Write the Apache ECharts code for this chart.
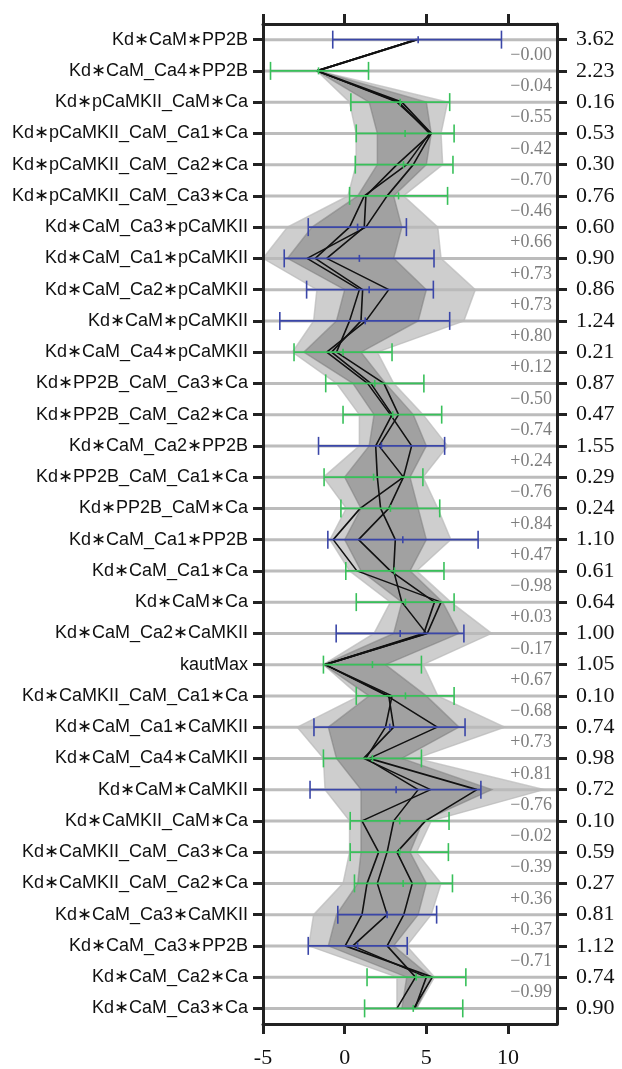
<!DOCTYPE html>
<html>
<head>
<meta charset="utf-8">
<script src="https://cdn.jsdelivr.net/npm/echarts@6/dist/echarts.min.js"></script>
<style>
html, body { margin: 0; padding: 0; background: #fff; }
#main { width: 622px; height: 1069px; }
</style>
</head>
<body>
<div id="main"></div>
<script>
// parameter names, top to bottom
var params = [
    'Kd∗CaM∗PP2B', 'Kd∗CaM_Ca4∗PP2B', 'Kd∗pCaMKII_CaM∗Ca', 'Kd∗pCaMKII_CaM_Ca1∗Ca',
    'Kd∗pCaMKII_CaM_Ca2∗Ca', 'Kd∗pCaMKII_CaM_Ca3∗Ca', 'Kd∗CaM_Ca3∗pCaMKII', 'Kd∗CaM_Ca1∗pCaMKII',
    'Kd∗CaM_Ca2∗pCaMKII', 'Kd∗CaM∗pCaMKII', 'Kd∗CaM_Ca4∗pCaMKII', 'Kd∗PP2B_CaM_Ca3∗Ca',
    'Kd∗PP2B_CaM_Ca2∗Ca', 'Kd∗CaM_Ca2∗PP2B', 'Kd∗PP2B_CaM_Ca1∗Ca', 'Kd∗PP2B_CaM∗Ca',
    'Kd∗CaM_Ca1∗PP2B', 'Kd∗CaM_Ca1∗Ca', 'Kd∗CaM∗Ca', 'Kd∗CaM_Ca2∗CaMKII',
    'kautMax', 'Kd∗CaMKII_CaM_Ca1∗Ca', 'Kd∗CaM_Ca1∗CaMKII', 'Kd∗CaM_Ca4∗CaMKII',
    'Kd∗CaM∗CaMKII', 'Kd∗CaMKII_CaM∗Ca', 'Kd∗CaMKII_CaM_Ca3∗Ca', 'Kd∗CaMKII_CaM_Ca2∗Ca',
    'Kd∗CaM_Ca3∗CaMKII', 'Kd∗CaM_Ca3∗PP2B', 'Kd∗CaM_Ca2∗Ca', 'Kd∗CaM_Ca3∗Ca'
];
// right hand column
var spreads = [3.62, 2.23, 0.16, 0.53, 0.30, 0.76, 0.60, 0.90, 0.86, 1.24, 0.21, 0.87, 0.47, 1.55, 0.29, 0.24,
    1.10, 0.61, 0.64, 1.00, 1.05, 0.10, 0.74, 0.98, 0.72, 0.10, 0.59, 0.27, 0.81, 1.12, 0.74, 0.90];
// correlation between neighbouring rows
var correlations = [-0, -0.04, -0.55, -0.42, -0.70, -0.46, 0.66, 0.73, 0.73, 0.80, 0.12, -0.50, -0.74, 0.24,
    -0.76, 0.84, 0.47, -0.98, 0.03, -0.17, 0.67, -0.68, 0.73, 0.81, -0.76, -0.02, -0.39, 0.36, 0.37, -0.71, -0.99];

// prior error bars
var errLow = [-0.73, -4.54, 0.38, 0.71, 0.65, 0.30, -2.23, -3.70, -2.33, -3.97, -3.10, -1.16, -0.10, -1.60, -1.26, -0.23,
    -1.03, 0.07, 0.71, -0.52, -1.30, 0.71, -1.88, -1.30, -2.12, 0.34, 0.34, 0.60, -0.42, -2.23, 1.37, 1.22];
var errMid = [4.50, -1.60, 3.40, 3.70, 3.60, 3.30, 0.79, 0.90, 1.50, 1.26, -0.10, 1.84, 2.94, 2.25, 1.77, 2.80,
    3.56, 3.05, 3.72, 3.40, 1.70, 3.72, 2.76, 1.70, 3.15, 3.37, 3.37, 3.58, 2.60, 0.79, 4.38, 4.20];
var errHigh = [9.60, 1.46, 6.43, 6.70, 6.63, 6.30, 3.78, 5.47, 5.43, 6.43, 2.90, 4.85, 5.94, 6.12, 4.79, 5.82,
    8.17, 6.08, 6.70, 7.30, 4.70, 6.70, 7.37, 4.70, 8.34, 6.39, 6.35, 6.60, 5.63, 3.83, 7.42, 7.23];
var blueRows = [0, 6, 7, 8, 9, 13, 16, 19, 22, 24, 28, 29];

// sample cloud: full extent and dense core
var sampleLo = [4.40, -1.70, 0.30, 0.70, 0.70, 0.20, -3.50, -5.00, -1.70, -1.90, -3.20, -0.50, 0.90, 0.90, -1.30, 0.10,
    -0.90, 0.30, 2.80, 1.80, -1.30, 0.90, -2.90, -1.30, -1.20, 0.30, 0.30, -0.10, -1.90, -2.20, 3.20, 3.20];
var sampleHi = [4.50, -1.60, 6.30, 5.90, 6.00, 3.60, 5.70, 5.90, 8.00, 7.30, 2.00, 3.00, 4.80, 6.30, 4.80, 5.70,
    6.50, 4.40, 6.50, 9.00, 4.80, 5.70, 9.80, 4.40, 12.20, 5.30, 4.40, 5.90, 5.30, 3.80, 5.50, 4.40];
var coreLo = [4.40, -1.70, 1.50, 2.00, 2.00, 0.80, -2.00, -3.50, 0.00, -0.50, -2.50, 0.50, 1.80, 1.50, 0.00, 1.00,
    0.00, 1.00, 3.50, 3.00, -1.30, 1.50, -1.00, -0.50, 1.00, 1.00, 1.00, 0.80, -0.50, -1.00, 3.80, 3.50];
var coreHi = [4.50, -1.60, 5.00, 5.30, 5.00, 3.00, 3.50, 3.00, 5.00, 4.50, 1.00, 2.50, 4.20, 5.00, 4.00, 4.50,
    5.00, 4.00, 6.00, 7.00, 2.50, 5.00, 7.00, 3.50, 9.00, 4.80, 4.00, 5.00, 4.50, 3.00, 5.30, 4.40];

// highlighted samples
var bestA = [4.40, -1.70, 3.20, 5.30, 3.20, 1.30, 1.20, -1.10, 2.70, 1.30, -1.10, 1.40, 2.80, 4.10, 3.60, 0.95,
    -0.70, 0.75, 5.90, 5.06, -1.20, 2.70, 3.00, 1.16, 5.26, 1.06, 2.08, 1.37, 1.06, 0.03, 5.37, 4.23];
var bestB = [4.40, -1.70, 3.50, 5.30, 4.20, 2.60, 1.30, -2.30, 0.90, 0.30, -0.50, 2.40, 3.30, 2.10, 3.60, 2.70,
    0.85, 2.80, 5.50, 4.85, -1.20, 2.60, 5.67, 1.50, 8.10, 4.95, 3.20, 4.14, 3.62, 2.60, 4.34, 3.20];
var bestC = [4.40, -1.70, 3.30, 5.20, 3.80, 1.20, 0.30, -1.80, 1.10, 1.00, -0.80, 1.60, 2.90, 1.90, 2.00, 2.20,
    3.10, 3.00, 3.50, 5.00, -1.20, 2.90, 2.50, 1.30, 4.50, 3.00, 2.60, 2.00, 2.60, 0.50, 5.00, 4.30];

var xMin = -5, xMax = 13;
var xTicks = [-5, 0, 5, 10];

var myChart = echarts.init(document.getElementById('main'));

function bandItem(lo, hi, color) {
    return function(p, api) {
        var pts = [];
        for (var i = 0; i < lo.length; i++) pts.push(api.coord([lo[i], i]));
        for (var j = hi.length - 1; j >= 0; j--) pts.push(api.coord([hi[j], j]));
        return {type: 'polygon', shape: {points: pts}, style: {fill: color, stroke: color, lineWidth: 1.5}};
    };
}

function pathSeries(vals) {
    return {
        type: 'line', z: 4, symbol: 'none', silent: true,
        lineStyle: {color: '#111', width: 1.6},
        data: vals.map(function(v, i) { return [v, i]; })
    };
}

var axisLine = {show: true, onZero: false, lineStyle: {color: '#222', width: 3}};
var axisTick = {show: true, length: 10, lineStyle: {color: '#222', width: 3}};

var option = {
    animation: false,
    grid: {left: 263, right: 65, top: 24, bottom: 44},
    xAxis: [{
        type: 'value', position: 'bottom', min: xMin, max: xMax, z: 10,
        axisLine: axisLine,
        axisTick: Object.assign({customValues: xTicks}, axisTick),
        axisLabel: {customValues: xTicks, margin: 23, color: '#111', fontSize: 22, fontFamily: 'Liberation Serif'},
        splitLine: {show: false}
    }, {
        type: 'value', position: 'top', min: xMin, max: xMax, z: 10,
        axisLine: axisLine,
        axisTick: Object.assign({customValues: xTicks}, axisTick),
        axisLabel: {show: false},
        splitLine: {show: false}
    }],
    yAxis: [{
        type: 'category', inverse: true, position: 'left', data: params, z: 10,
        axisLine: axisLine,
        axisTick: Object.assign({alignWithLabel: true, interval: 0}, axisTick),
        axisLabel: {interval: 0, margin: 15, color: '#111', fontSize: 18, fontFamily: 'Liberation Sans'}
    }, {
        type: 'category', inverse: true, position: 'right', z: 10,
        data: spreads.map(function(v) { return v.toFixed(2); }),
        axisLine: axisLine,
        axisTick: Object.assign({alignWithLabel: true, interval: 0}, axisTick),
        axisLabel: {interval: 0, margin: 19, color: '#111', fontSize: 22, fontFamily: 'Liberation Serif'}
    }],
    series: [{
        // row guide lines
        type: 'custom', z: 1, silent: true,
        data: params.map(function(n, i) { return [xMin, i]; }),
        renderItem: function(p, api) {
            var i = api.value(1);
            var a = api.coord([xMin, i]), b = api.coord([xMax, i]);
            return {type: 'line', shape: {x1: a[0], y1: a[1], x2: b[0], y2: b[1]},
                style: {stroke: '#bcbcbc', lineWidth: 3}};
        }
    }, {
        type: 'custom', z: 2, silent: true, data: [[0, 0]],
        renderItem: bandItem(sampleLo, sampleHi, 'rgba(185,185,185,0.7)')
    }, {
        type: 'custom', z: 3, silent: true, data: [[0, 0]],
        renderItem: bandItem(coreLo, coreHi, 'rgba(125,125,125,0.55)')
    },
    pathSeries(bestA), pathSeries(bestB), pathSeries(bestC),
    {
        // error bars
        type: 'custom', z: 5, silent: true,
        data: errMid.map(function(m, i) { return [m, i, errLow[i], errHigh[i]]; }),
        renderItem: function(p, api) {
            var i = api.value(1);
            var c = api.coord([api.value(0), i]);
            var lo = api.coord([api.value(2), i]);
            var hi = api.coord([api.value(3), i]);
            var col = blueRows.indexOf(i) >= 0 ? '#3a46a8' : '#38c05a';
            var st = {stroke: col, lineWidth: 1.6};
            return {type: 'group', children: [
                {type: 'line', shape: {x1: lo[0], y1: c[1], x2: hi[0], y2: c[1]}, style: st},
                {type: 'line', shape: {x1: lo[0], y1: c[1] - 9, x2: lo[0], y2: c[1] + 9}, style: st},
                {type: 'line', shape: {x1: hi[0], y1: c[1] - 9, x2: hi[0], y2: c[1] + 9}, style: st},
                {type: 'line', shape: {x1: c[0], y1: c[1] - 3.5, x2: c[0], y2: c[1] + 3.5}, style: st}
            ]};
        }
    }, {
        // correlations between neighbours
        type: 'custom', z: 6, silent: true,
        data: correlations.map(function(v, i) { return [v, i]; }),
        renderItem: function(p, api) {
            var v = correlations[p.dataIndex];
            var i = api.value(1);
            var a = api.coord([xMax, i]), b = api.coord([xMax, i + 1]);
            var neg = v < 0 || Object.is(v, -0);
            return {type: 'text', x: a[0] - 5, y: (a[1] + b[1]) / 2,
                style: {text: (neg ? '−' : '+') + Math.abs(v).toFixed(2), fill: '#7d7d7d',
                    font: '18px "Liberation Serif"', align: 'right', verticalAlign: 'middle',
                    textAlign: 'right', textVerticalAlign: 'middle'}};
        }
    }]
};
myChart.setOption(option);
</script>
</body>
</html>
